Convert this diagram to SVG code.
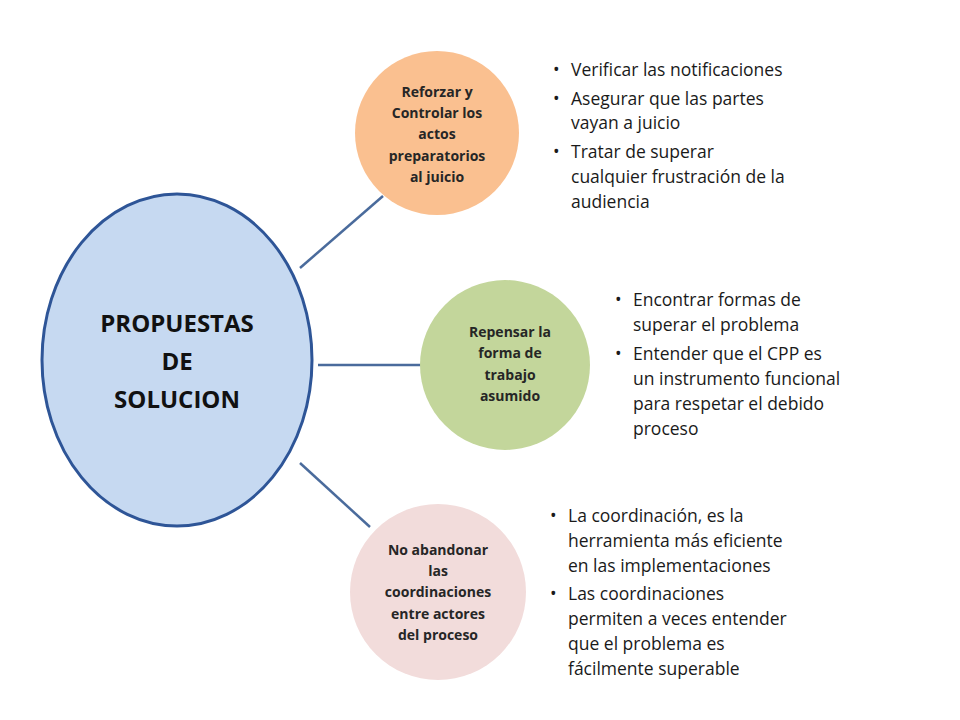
<svg xmlns="http://www.w3.org/2000/svg" width="960" height="720" viewBox="0 0 960 720">
<style>
.c{font-family:"Open Sans","Liberation Sans",Arial,sans-serif;font-weight:bold;font-size:14px;fill:#262626;text-anchor:middle}
.b{font-family:"Open Sans","Liberation Sans",Arial,sans-serif;font-size:17.5px;fill:#1a1a1a}
.ln{stroke:#4a6b9c;stroke-width:2.5;fill:none}
</style>
<rect width="960" height="720" fill="#fff"/>
<g id="connectors">
<line class="ln" x1="300" y1="268" x2="383" y2="196"/>
<line class="ln" x1="318" y1="365" x2="425" y2="365"/>
<line class="ln" x1="300" y1="463" x2="370" y2="527"/>
</g>
<g id="main">
<ellipse cx="177" cy="360" rx="135" ry="166" fill="#c6d9f1" stroke="#2e5597" stroke-width="3"/>
<text font-family="Open Sans,Liberation Sans,Arial,sans-serif" font-weight="bold" font-size="24" fill="#111" text-anchor="middle"><tspan x="177" y="332">PROPUESTAS</tspan><tspan x="177" y="370">DE</tspan><tspan x="177" y="408">SOLUCION</tspan></text>
</g>
<g id="n1">
<circle cx="437" cy="133" r="82" fill="#fac090"/>
<text class="c"><tspan x="437" y="97">Reforzar y</tspan><tspan x="437" y="118">Controlar los</tspan><tspan x="437" y="139">actos</tspan><tspan x="437" y="161">preparatorios</tspan><tspan x="437" y="182">al juicio</tspan></text>
<text class="b"><tspan x="553" y="76">•</tspan><tspan x="571" y="76">Verificar las notificaciones</tspan><tspan x="553" y="105">•</tspan><tspan x="571" y="105">Asegurar que las partes</tspan><tspan x="571" y="129">vayan a juicio</tspan><tspan x="553" y="158">•</tspan><tspan x="571" y="158">Tratar de superar</tspan><tspan x="571" y="183">cualquier frustración de la</tspan><tspan x="571" y="208">audiencia</tspan></text>
</g>
<g id="n2">
<circle cx="505" cy="365" r="85" fill="#c3d69b"/>
<text class="c"><tspan x="510" y="337">Repensar la</tspan><tspan x="510" y="358">forma de</tspan><tspan x="510" y="380">trabajo</tspan><tspan x="510" y="401">asumido</tspan></text>
<text class="b"><tspan x="615" y="306">•</tspan><tspan x="633" y="306">Encontrar formas de</tspan><tspan x="633" y="331">superar el problema</tspan><tspan x="615" y="360">•</tspan><tspan x="633" y="360">Entender que  el CPP es</tspan><tspan x="633" y="385">un instrumento funcional</tspan><tspan x="633" y="410">para respetar el debido</tspan><tspan x="633" y="435">proceso</tspan></text>
</g>
<g id="n3">
<circle cx="438" cy="592" r="88" fill="#f2dcdb"/>
<text class="c"><tspan x="438" y="555">No abandonar</tspan><tspan x="438" y="576">las</tspan><tspan x="438" y="597">coordinaciones</tspan><tspan x="438" y="619">entre actores</tspan><tspan x="438" y="640">del proceso</tspan></text>
<text class="b"><tspan x="550" y="522">•</tspan><tspan x="568" y="522">La coordinación, es la</tspan><tspan x="568" y="547">herramienta más eficiente</tspan><tspan x="568" y="572">en las implementaciones</tspan><tspan x="550" y="600">•</tspan><tspan x="568" y="600">Las coordinaciones</tspan><tspan x="568" y="625">permiten a veces entender</tspan><tspan x="568" y="650">que el problema es</tspan><tspan x="568" y="675">fácilmente superable</tspan></text>
</g>
</svg>
